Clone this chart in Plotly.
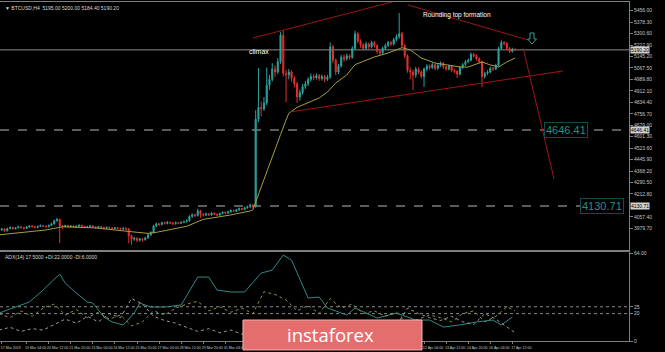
import plotly.graph_objects as go

# ---------------- data ----------------
bar_index = list(range(188))
first_open = 3960
close = [3968, 3975, 3962, 3978, 3985, 3976, 3983, 3990, 3984, 3979,
         3988, 3995, 3990, 3985, 3992, 3998, 3994, 3990, 3999, 4010,
         4030, 4040, 3995, 3992, 3998, 3990, 3995, 3988, 3993, 3999,
         3992, 3986, 3990, 3996, 3989, 3984, 3990, 3985, 3980, 3986,
         3982, 3977, 3983, 3978, 3974, 3980, 3975, 3930, 3905, 3912,
         3898, 3908, 3902, 3915, 3935, 3950, 3995, 4010, 4005, 4018,
         4012, 4020, 4015, 4010, 4018, 4014, 4020, 4025, 4030, 4060,
         4072, 4065, 4098, 4075, 4070, 4078, 4070, 4082, 4075, 4070,
         4080, 4088, 4083, 4092, 4100, 4095, 4105, 4112, 4108, 4118,
         4125, 4138, 4125, 4720, 4800, 4790, 4830, 4950, 4990, 5060,
         5040, 5110, 5290, 5030, 5020, 5040, 5000, 4960, 4870, 4900,
         4940, 4960, 4990, 5010, 5000, 5015, 4995, 5010, 4990, 5005,
         5210, 5120, 5040, 5080, 5140, 5130, 5150, 5140, 5200, 5300,
         5250, 5225, 5200, 5230, 5210, 5240, 5220, 5180, 5170, 5200,
         5220, 5240, 5230, 5260, 5280, 5300, 5220, 5150, 5050, 5040,
         5020, 5060, 5040, 5010, 5060, 5080, 5070, 5090, 5065, 5085,
         5100, 5075, 5060, 5080, 5050, 5045, 5025, 5070, 5090, 5110,
         5120, 5160, 5150, 5130, 5110, 5010, 5030, 5040, 5065, 5060,
         5085, 5200, 5240, 5235, 5200, 5180, 5195, 5190]
high = [3975, 3982, 3980, 3984, 3992, 3990, 3988, 3997, 3995, 3989,
        3994, 4002, 4000, 3996, 3998, 4005, 4003, 3999, 4005, 4018,
        4038, 4050, 4045, 4002, 4004, 4003, 4001, 3999, 3999, 4006,
        4004, 3996, 3996, 4002, 3999, 3993, 3996, 3994, 3990, 3992,
        3990, 3987, 3989, 3988, 3984, 3986, 3985, 3980, 3936, 3922,
        3918, 3915, 3914, 3922, 3942, 3960, 4003, 4018, 4016, 4025,
        4024, 4028, 4026, 4021, 4025, 4023, 4027, 4032, 4040, 4068,
        4080, 4078, 4112, 4105, 4082, 4085, 4083, 4090, 4087, 4080,
        4087, 4095, 4094, 4099, 4108, 4106, 4112, 4120, 4118, 4126,
        4133, 4146, 4142, 4780, 5067, 4840, 4870, 5070, 5020, 5100,
        5085, 5135, 5310, 5325, 5055, 5060, 5052, 5012, 4975, 4920,
        4958, 4980, 5005, 5030, 5025, 5030, 5026, 5024, 5020, 5020,
        5240, 5225, 5130, 5095, 5155, 5160, 5165, 5160, 5215, 5320,
        5310, 5262, 5235, 5245, 5240, 5252, 5250, 5228, 5192, 5212,
        5232, 5252, 5250, 5272, 5295, 5440, 5312, 5230, 5160, 5070,
        5055, 5075, 5072, 5050, 5070, 5092, 5090, 5102, 5098, 5096,
        5112, 5108, 5082, 5090, 5088, 5062, 5052, 5080, 5100, 5122,
        5132, 5172, 5170, 5158, 5140, 5118, 5042, 5052, 5076, 5074,
        5096, 5212, 5255, 5250, 5242, 5210, 5205, 5200]
low = [3952, 3962, 3955, 3958, 3972, 3970, 3971, 3979, 3978, 3972,
       3975, 3984, 3985, 3979, 3980, 3988, 3989, 3984, 3986, 3994,
       4005, 4025, 3880, 3975, 3986, 3984, 3985, 3982, 3983, 3988,
       3986, 3980, 3981, 3985, 3983, 3977, 3979, 3979, 3974, 3975,
       3976, 3970, 3972, 3972, 3966, 3968, 3965, 3878, 3868, 3895,
       3885, 3890, 3888, 3896, 3908, 3928, 3945, 3988, 3996, 3999,
       4004, 4006, 4008, 4002, 4004, 4007, 4008, 4014, 4018, 4024,
       4052, 4055, 4060, 4050, 4060, 4062, 4063, 4064, 4068, 4062,
       4064, 4074, 4076, 4077, 4086, 4088, 4089, 4098, 4100, 4102,
       4112, 4118, 4116, 4120, 4700, 4740, 4775, 4815, 4920, 4975,
       5005, 5025, 5095, 5010, 4835, 4990, 4975, 4935, 4830, 4845,
       4885, 4925, 4945, 4975, 4985, 4988, 4980, 4982, 4972, 4980,
       4995, 5100, 5020, 5025, 5070, 5110, 5118, 5125, 5130, 5190,
       5235, 5205, 5185, 5190, 5195, 5200, 5205, 5165, 5155, 5160,
       5190, 5210, 5215, 5220, 5248, 5265, 5205, 5135, 5035, 4990,
       4918, 5000, 5025, 4995, 4940, 5045, 5055, 5060, 5052, 5055,
       5075, 5062, 5048, 5050, 5040, 5032, 4999, 5018, 5062, 5082,
       5100, 5112, 5138, 5118, 5098, 4938, 4995, 5020, 5032, 5048,
       5052, 5078, 5190, 5220, 5188, 5170, 5172, 5184]
open_ = [first_open] + close[:-1]

# moving average (bar index, value)
ma_idx = [0, 17, 23, 35, 47, 54, 57, 68, 74, 84, 91, 92, 95, 99, 102, 104, 105,
          108, 116, 119, 122, 126, 129, 136, 141, 146, 149, 153, 158, 167, 170,
          175, 178, 181, 184, 187]
ma_val = [3935, 3968, 3990, 3982, 3958, 3945, 3952, 3993, 4040, 4070, 4097, 4105,
          4260, 4470, 4615, 4714, 4760, 4800, 4864, 4904, 4965, 5020, 5090, 5142,
          5169, 5205, 5190, 5135, 5101, 5074, 5074, 5108, 5088, 5074, 5108, 5135]

# ADX(14) panel
adx_idx = [0, 6, 11, 16, 22, 24, 28, 32, 34, 38, 41, 45, 49, 51, 55, 60, 66, 72, 76,
           79, 84, 89, 95, 99, 103, 106, 112, 116, 119, 126, 129, 137, 144, 151,
           156, 161, 167, 173, 179, 182, 186]
adx_val = [20.4, 24.8, 28.5, 37.2, 48.9, 42.3, 35.0, 28.5, 27.7, 17.5, 13.9, 11.7,
           20.4, 27.7, 24.8, 24.8, 26.3, 46.7, 46.7, 37.2, 35.8, 35.8, 49.6, 51.8,
           62.8, 59.1, 31.4, 32.1, 24.1, 19.0, 24.1, 16.8, 20.4, 15.3, 15.3, 10.2,
           11.7, 13.9, 15.3, 11.7, 17.5]
di_idx = [0, 4, 8, 12, 16, 20, 24, 28, 32, 36, 40, 44, 48, 52, 56, 60, 64, 68, 72,
          76, 80, 84, 88, 92, 96, 100, 104, 108, 112, 116, 120, 124, 128, 132, 136,
          140, 144, 148, 152, 156, 160, 164, 168, 172, 176, 180, 184, 187]
plus_di = [20, 17, 22, 18, 24, 27, 19, 23, 17, 21, 16, 19, 11, 14, 22, 19, 24, 27,
           29, 22, 25, 21, 24, 20, 36, 34, 30, 22, 26, 20, 31, 24, 27, 20, 22, 18,
           21, 13, 16, 19, 17, 14, 20, 22, 14, 18, 25, 22]
minus_di = [8, 10, 7, 9, 8, 12, 16, 13, 18, 14, 20, 17, 31, 27, 18, 15, 13, 10, 7,
            9, 6, 8, 5, 6, 4, 5, 9, 12, 10, 8, 6, 12, 9, 14, 12, 15, 11, 24, 20,
            17, 15, 18, 14, 12, 20, 16, 10, 6]
adx_levels = [20, 25]

levels = [4646.41, 4130.71]
level_text = ["4646.41", "4130.71"]
level_label_idx = [205.3, 218.3]
last_price = 5190.20

# analyst trend lines: (bar index, price) pairs
trend_lines = [
    ([92.0, 142.4], [5270.7, 5515.0]),
    ([148.2, 191.7], [5494.7, 5257.1]),
    ([105.4, 204.3], [4768.6, 5046.8]),
    ([189.9, 201.1], [5202.9, 4313.9]),
]
# hollow "down" arrow marker drawn by the analyst (bar index, price)
arrow_x = [192.39, 193.84, 193.84, 194.75, 193.12, 191.49, 192.39]
arrow_y = [5304.6, 5304.6, 5263.9, 5263.9, 5230.0, 5263.9, 5263.9]

price_ticks = [3979.70, 4057.40, 4212.80, 4290.50, 4368.20, 4445.90,
               4523.60, 4601.30, 4679.00, 4756.70, 4834.40, 4912.10, 4989.80,
               5067.50, 5145.20, 5222.90, 5300.60, 5378.30, 5456.00]

time_tick_idx = [1, 10, 18, 26, 34, 42, 50, 58, 66, 74, 82, 90, 98, 106, 114, 122,
                 130, 138, 146, 154, 162, 170, 178, 186]
time_tick_text = ["17 Mar 2019", "19 Mar 04:00", "20 Mar 12:00", "21 Mar 20:00",
                  "23 Mar 04:00", "24 Mar 12:00", "25 Mar 20:00", "27 Mar 04:00",
                  "28 Mar 12:00", "29 Mar 20:00", "31 Mar 04:00", "1 Apr 12:00",
                  "2 Apr 20:00", "4 Apr 04:00", "5 Apr 12:00", "6 Apr 20:00",
                  "8 Apr 04:00", "9 Apr 12:00", "10 Apr 20:00", "12 Apr 04:00",
                  "13 Apr 12:00", "14 Apr 20:00", "16 Apr 04:00", "17 Apr 12:00"]

# ---------------- figure ----------------
UP = "#2aa39d"
DOWN = "#e0302d"
AXC = "#7f7f7f"
TXT = "#c4c4c4"
FONT = "Liberation Sans"

fig = go.Figure()

fig.add_trace(go.Candlestick(
    x=bar_index, open=open_, high=high, low=low, close=close,
    increasing=dict(line=dict(color=UP, width=1), fillcolor=UP),
    decreasing=dict(line=dict(color=DOWN, width=1), fillcolor=DOWN),
    whiskerwidth=0, xaxis="x", yaxis="y", showlegend=False, hoverinfo="skip"))

fig.add_trace(go.Scatter(x=ma_idx, y=ma_val, mode="lines",
                         line=dict(color="#a49f3e", width=1),
                         xaxis="x", yaxis="y", showlegend=False, hoverinfo="skip"))

for tx, ty in trend_lines:
    fig.add_trace(go.Scatter(x=tx, y=ty, mode="lines",
                             line=dict(color="#9c1616", width=1),
                             xaxis="x", yaxis="y", showlegend=False,
                             hoverinfo="skip"))

fig.add_trace(go.Scatter(x=arrow_x + arrow_x[:1], y=arrow_y + arrow_y[:1],
                         mode="lines", line=dict(color="#3c9c93", width=1),
                         xaxis="x", yaxis="y", showlegend=False, hoverinfo="skip"))

fig.add_trace(go.Scatter(x=adx_idx, y=adx_val, mode="lines",
                         line=dict(color="#2f8a85", width=1),
                         xaxis="x2", yaxis="y2", showlegend=False, hoverinfo="skip"))
fig.add_trace(go.Scatter(x=di_idx, y=plus_di, mode="lines",
                         line=dict(color="#8f8c4c", width=1, dash="dot"),
                         xaxis="x2", yaxis="y2", showlegend=False, hoverinfo="skip"))
fig.add_trace(go.Scatter(x=di_idx, y=minus_di, mode="lines",
                         line=dict(color="#9a9a9a", width=1, dash="dot"),
                         xaxis="x2", yaxis="y2", showlegend=False, hoverinfo="skip"))

shapes = []
shapes.append(dict(type="line", xref="x domain", yref="y", x0=0, x1=1,
                   y0=last_price, y1=last_price,
                   line=dict(color="#8a8a8a", width=1), layer="below"))
for lv in levels:
    shapes.append(dict(type="line", xref="x domain", yref="y", x0=0, x1=1,
                       y0=lv, y1=lv,
                       line=dict(color="#b8b8b8", width=1, dash="dash"),
                       layer="below"))
for lv in adx_levels:
    shapes.append(dict(type="line", xref="x2 domain", yref="y2", x0=0, x1=1,
                       y0=lv, y1=lv,
                       line=dict(color="#8a8a8a", width=1, dash="dot"),
                       layer="below"))
# instaforex logo plate
shapes.append(dict(type="rect", xref="paper", yref="paper",
                   x0=0.3863, x1=0.6709, y0=-0.0265, y1=0.0619,
                   fillcolor="#e46e6e", line=dict(color="#f3b3b3", width=1),
                   layer="above"))

annotations = []
annotations.append(dict(xref="paper", yref="paper", x=0.004, y=0.998,
                        xanchor="left", yanchor="top", showarrow=False,
                        text="▼ BTCUSD,H4  5195.00 5200.00 5184.40 5190.20",
                        font=dict(family=FONT, size=5, color="#d8d8d8")))
annotations.append(dict(xref="paper", yref="paper", x=0.004, y=0.2625,
                        xanchor="left", yanchor="top", showarrow=False,
                        text="ADX(14) 17.5000 +DI:22.0000 -DI:6.0000",
                        font=dict(family=FONT, size=5, color="#d8d8d8")))
annotations.append(dict(xref="x", yref="y", x=94.2, y=5176, showarrow=False,
                        text="climax", font=dict(family=FONT, size=7, color="#ffffff")))
annotations.append(dict(xref="x", yref="y", x=165.9, y=5427, showarrow=False,
                        text="Rounding top formation",
                        font=dict(family=FONT, size=6.5, color="#ffffff")))
for lv, lt, li in zip(levels, level_text, level_label_idx):
    annotations.append(dict(xref="x", yref="y", x=li, y=lv, showarrow=False,
                            text=lt, bgcolor="#000000", bordercolor="#0f4d4a",
                            borderwidth=1, borderpad=1,
                            font=dict(family=FONT, size=11, color="#2a8f8a")))
for lv, lt in zip(levels + [last_price], level_text + ["%.2f" % last_price]):
    annotations.append(dict(xref="paper", yref="y", x=1, y=lv, xanchor="left",
                            xshift=1, showarrow=False, text=lt,
                            bgcolor="#d2d2d2", borderpad=0,
                            font=dict(family=FONT, size=5, color="#000000")))
annotations.append(dict(xref="paper", yref="paper", x=0.526, y=0.0177,
                        xanchor="center", yanchor="middle",
                        showarrow=False, text="instaforex",
                        font=dict(family="Open Sans", size=18.5, color="#ffffff")))

fig.update_layout(
    width=665, height=352,
    margin=dict(l=0, r=36, t=2, b=11, autoexpand=False),
    paper_bgcolor="#000000", plot_bgcolor="#000000",
    showlegend=False, boxgap=0.45,
    shapes=shapes, annotations=annotations,
    xaxis=dict(domain=[0, 1], range=[0.36, 228.26], anchor="y",
               showticklabels=False, ticks="", showgrid=False, zeroline=False,
               showline=True, linecolor=AXC, linewidth=1, mirror=True,
               automargin=False, rangeslider=dict(visible=False)),
    yaxis=dict(domain=[0.2684, 1], range=[3832.1, 5515.0], side="right",
               anchor="x", tickvals=price_ticks,
               ticktext=["%.2f" % v for v in price_ticks],
               ticks="outside", ticklen=3, tickcolor=AXC, automargin=False,
               tickfont=dict(family=FONT, size=5, color=TXT),
               showgrid=False, zeroline=False,
               showline=True, linecolor=AXC, linewidth=1, mirror=True),
    xaxis2=dict(domain=[0, 1], range=[0.36, 228.26], anchor="y2", matches="x",
                tickvals=time_tick_idx, ticktext=time_tick_text, tickangle=0,
                ticks="outside", ticklen=2, tickcolor=AXC, ticklabelshift=9,
                ticklabelstandoff=1, automargin=False,
                tickfont=dict(family=FONT, size=3.6, color=TXT),
                showgrid=False, zeroline=False,
                showline=True, linecolor=AXC, linewidth=1, mirror=True),
    yaxis2=dict(domain=[0, 0.2625], range=[0, 65], side="right", anchor="x2",
                tickvals=[0, 20, 25, 64], ticktext=["0", "20", "25", "64.00"],
                ticks="outside", ticklen=3, tickcolor=AXC, automargin=False,
                tickfont=dict(family=FONT, size=5, color=TXT),
                showgrid=False, zeroline=False,
                showline=True, linecolor=AXC, linewidth=1, mirror=True),
)

fig.write_html("out.html")
